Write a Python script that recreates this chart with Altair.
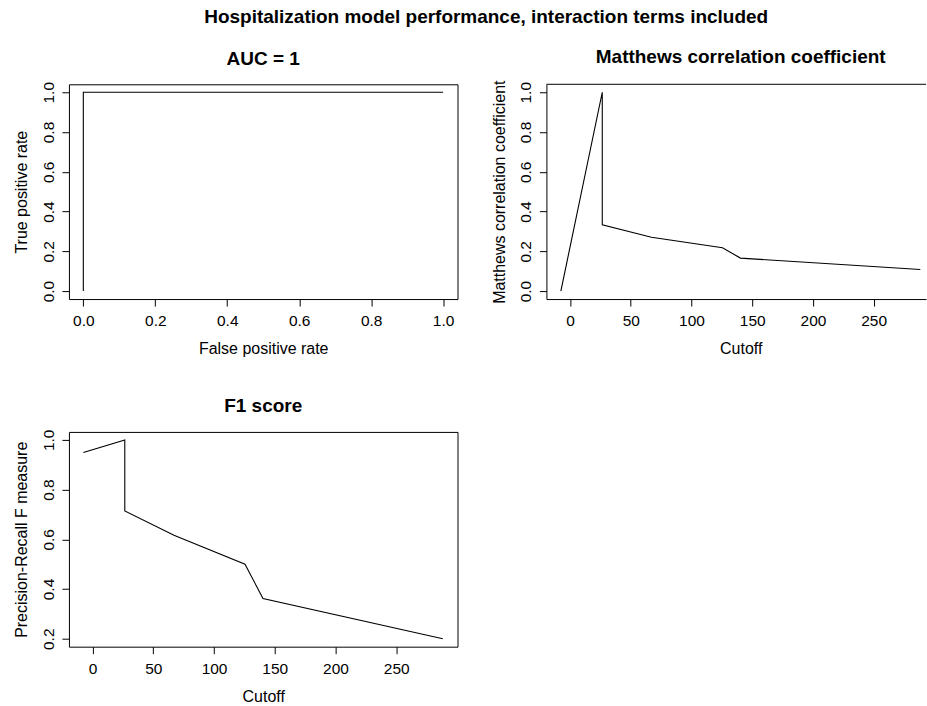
import altair as alt
import pandas as pd

FONT = "Liberation Sans"

# ROC curve
roc_fpr = [0.0, 0.0, 1.0]
roc_tpr = [0.0, 1.0, 1.0]

# Cutoff-based curves
cutoffs = [-7.6, 26.5, 26.5, 67.0, 125.5, 140.3, 288.4]
mcc_vals = [0.0, 1.0, 0.333, 0.271, 0.218, 0.166, 0.109]
f1_vals = [0.949, 1.0, 0.714, 0.616, 0.5, 0.362, 0.2]

rate_ticks = [0.0, 0.2, 0.4, 0.6, 0.8, 1.0]
cut_ticks = [0, 50, 100, 150, 200, 250]
f1_ticks = [0.2, 0.4, 0.6, 0.8, 1.0]

# axis ranges (R style: data range padded by 4%)
rate_dom = [-0.04, 1.04]
mcc_cut_dom = [-19.5, 293.1]
f1_cut_dom = [-19.5, 300.5]
f1_dom = [0.168, 1.032]

roc_df = pd.DataFrame({"i": range(len(roc_fpr)), "x": roc_fpr, "y": roc_tpr})
mcc_df = pd.DataFrame({"i": range(len(cutoffs)), "x": cutoffs, "y": mcc_vals})
f1_df = pd.DataFrame({"i": range(len(cutoffs)), "x": cutoffs, "y": f1_vals})
frame_df = pd.DataFrame({"x1": [mcc_cut_dom[0]], "x2": [mcc_cut_dom[1]], "y": [rate_dom[1]]})

W = 389
W2 = 380
H = 215


def xaxis(values, fmt, title, domain=False):
    return alt.Axis(
        values=values, format=fmt, title=title, grid=False,
        domain=domain, domainColor="black", domainWidth=1,
        ticks=True, tickSize=7, tickColor="black", tickWidth=1,
        labelFont=FONT, labelFontSize=15.5, labelColor="black",
        labelBaseline="alphabetic", labelPadding=19.5,
        labelFlush=False, labelOverlap=False,
        titleFont=FONT, titleFontSize=16, titleFontWeight="normal",
        titleColor="black", titleBaseline="alphabetic", titleAlign="center",
        titleX=194.5, titleY=55,
    )


def yaxis(values, fmt, title, domain=False):
    return alt.Axis(
        values=values, format=fmt, title=title, grid=False,
        domain=domain, domainColor="black", domainWidth=1,
        ticks=True, tickSize=7, tickColor="black", tickWidth=1,
        labelFont=FONT, labelFontSize=15.5, labelColor="black",
        labelAngle=270, labelAlign="center", labelBaseline="alphabetic",
        labelPadding=8.5, labelFlush=False, labelOverlap=False,
        titleFont=FONT, titleFontSize=16, titleFontWeight="normal",
        titleColor="black", titleAngle=270, titleBaseline="alphabetic",
        titleAlign="center", titleX=-42, titleY=H / 2,
    )


def ptitle(text, dx=0):
    return alt.TitleParams(
        text=text, font=FONT, fontSize=19, fontWeight="bold", color="black",
        anchor="middle", frame="group", baseline="alphabetic", offset=-2, dx=dx,
    )


p1 = alt.Chart(roc_df).mark_line(color="black", strokeWidth=1.1).encode(
    x=alt.X("x:Q", scale=alt.Scale(domain=rate_dom, nice=False, zero=False),
            axis=xaxis(rate_ticks, ".1f", "False positive rate")),
    y=alt.Y("y:Q", scale=alt.Scale(domain=rate_dom, nice=False, zero=False),
            axis=yaxis(rate_ticks, ".1f", "True positive rate")),
    order="i:O",
).properties(width=W, height=H, title=ptitle("AUC = 1"))

mcc_line = alt.Chart(mcc_df).mark_line(color="black", strokeWidth=1.1).encode(
    x=alt.X("x:Q", scale=alt.Scale(domain=mcc_cut_dom, nice=False, zero=False),
            axis=xaxis(cut_ticks, "d", "Cutoff", domain=True)),
    y=alt.Y("y:Q", scale=alt.Scale(domain=rate_dom, nice=False, zero=False),
            axis=yaxis(rate_ticks, ".1f", "Matthews correlation coefficient", domain=True)),
    order="i:O",
)
mcc_top = alt.Chart(frame_df).mark_rule(color="black", strokeWidth=1).encode(
    x="x1:Q", x2="x2:Q", y="y:Q",
)
p2 = alt.layer(mcc_line, mcc_top).properties(
    width=W2, height=H, title=ptitle("Matthews correlation coefficient", dx=4.5),
    view=alt.ViewBackground(stroke="transparent"),
)

p3 = alt.Chart(f1_df).mark_line(color="black", strokeWidth=1.1).encode(
    x=alt.X("x:Q", scale=alt.Scale(domain=f1_cut_dom, nice=False, zero=False),
            axis=xaxis(cut_ticks, "d", "Cutoff")),
    y=alt.Y("y:Q", scale=alt.Scale(domain=f1_dom, nice=False, zero=False),
            axis=yaxis(f1_ticks, ".1f", "Precision-Recall F measure")),
    order="i:O",
).properties(width=W, height=H, title=ptitle("F1 score"))

chart = alt.concat(
    p1, p2, p3, columns=2,
    spacing=alt.RowColnumber(row=133, column=89), bounds="flush",
).properties(
    title=alt.TitleParams(
        text="Hospitalization model performance, interaction terms included",
        font=FONT, fontSize=19, fontWeight="bold", color="black",
        anchor="middle", baseline="alphabetic", offset=5, dx=16,
    ),
    padding={"left": 13, "top": 8, "right": 0, "bottom": 0},
    background="white",
).configure_view(stroke="black", strokeWidth=1)

chart.save("out.html", embed_options={"renderer": "svg", "actions": False})
